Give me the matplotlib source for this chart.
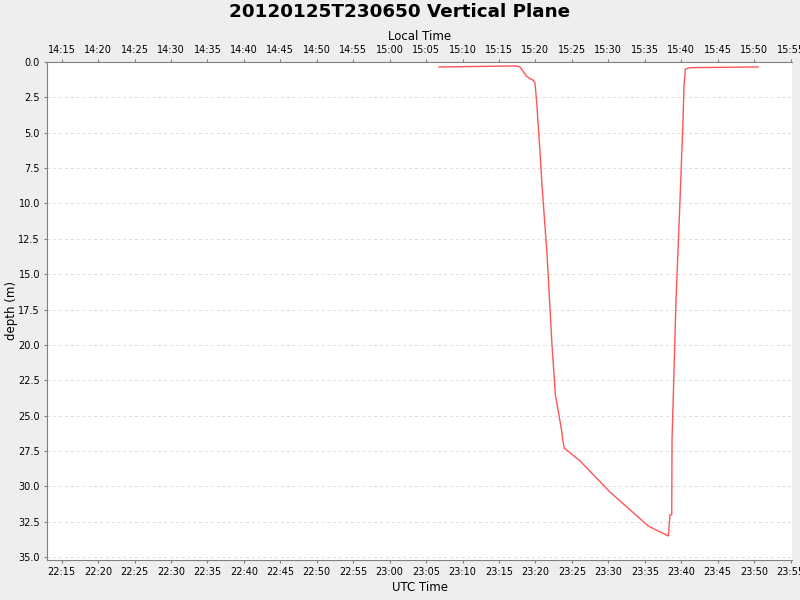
import pandas as pd
import matplotlib
matplotlib.use('Agg')
import matplotlib.pyplot as plt
import matplotlib.dates as mdates

# glider dive profile, minutes after 23:00 UTC and depth in metres
minutes = [6.77, 17.30, 17.88, 18.80, 19.71, 19.94, 20.18, 20.63, 20.90, 21.59,
           22.27, 22.73, 23.61, 23.74, 23.96, 26.12, 30.23, 35.49, 38.23, 38.46,
           38.70, 38.74, 39.29, 39.84, 40.25, 40.39, 40.57, 41.21, 50.58]
depth = [0.35, 0.28, 0.35, 1.02, 1.30, 1.50, 2.90, 6.40, 8.70, 13.6,
         20.0, 23.5, 26.1, 26.7, 27.3, 28.2, 30.4, 32.8, 33.5, 32.0,
         32.0, 26.7, 16.8, 9.7, 4.1, 1.6, 0.5, 0.4, 0.35]

title = '20120125T230650 Vertical Plane'
y_ticks = [0, 2.5, 5, 7.5, 10, 12.5, 15, 17.5, 20, 22.5, 25, 27.5, 30, 32.5, 35]

base = pd.Timestamp('2012-01-25 23:00:00')
utc = base + pd.to_timedelta(minutes, unit='m')
tick_times = pd.date_range('2012-01-25 22:15', '2012-01-25 23:55', freq='5min')
utc_labels = [t.strftime('%H:%M') for t in tick_times]
local_labels = [(t - pd.Timedelta(hours=8)).strftime('%H:%M') for t in tick_times]

fig = plt.figure(figsize=(8, 6), dpi=100, facecolor='#eeeeee')
ax = fig.add_subplot(111)
fig.subplots_adjust(left=47/800, right=792/800, top=1-62/600, bottom=1-560/600)
ax.set_facecolor('white')

ax.plot(utc, depth, color='#ff5555', linewidth=1)

x0 = pd.Timestamp('2012-01-25 22:12:59')
x1 = pd.Timestamp('2012-01-25 23:55:12')
ax.set_xlim(x0, x1)
ax.set_ylim(35.2, 0)

ax.set_xticks(tick_times)
ax.set_xticklabels(utc_labels)
ax.set_yticks(y_ticks)
ax.set_yticklabels(['%.1f' % v for v in y_ticks])
ax.grid(axis='y', color='#dddddd', linestyle='--', linewidth=0.7, dashes=(3, 3))
ax.set_axisbelow(True)

ax.tick_params(labelsize=7, length=2, color='#808080', pad=3)
for s in ['left', 'bottom']:
    ax.spines[s].set_color('#808080')
ax.spines['right'].set_visible(False)
ax.spines['top'].set_visible(False)
ax.set_xlabel('UTC Time', fontsize=8.5, labelpad=3)
ax.set_ylabel('depth (m)', fontsize=8.5, labelpad=0)

# local time axis on top (PST = UTC - 8h)
top = ax.twiny()
top.set_xlim(ax.get_xlim())
top.set_xticks(mdates.date2num(tick_times))
top.set_xticklabels(local_labels)
top.tick_params(labelsize=7, length=2, color='#808080', pad=3)
top.spines['top'].set_color('#808080')
top.spines['right'].set_visible(False)
top.spines['left'].set_visible(False)
top.spines['bottom'].set_visible(False)
top.set_xlabel('Local Time', fontsize=8.5, labelpad=4)

fig.text(0.5, 1-12/600, title, ha='center', va='center', fontsize=13.2, fontweight='bold')

plt.savefig('out.png', dpi=100, facecolor=fig.get_facecolor())
plt.close()
